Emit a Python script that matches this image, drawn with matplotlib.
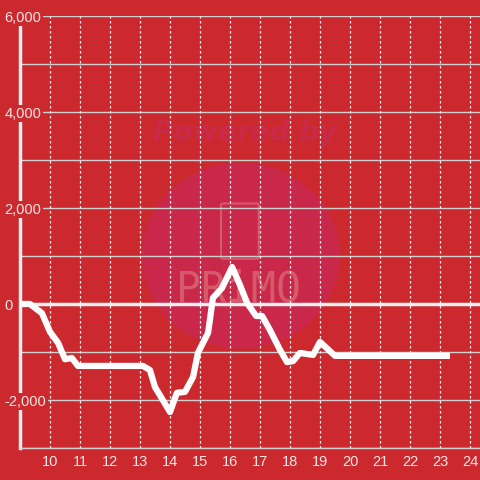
import numpy as np
import matplotlib.pyplot as plt
from matplotlib.patches import Circle, FancyBboxPatch

plt.rcParams['font.family'] = ['Liberation Sans', 'DejaVu Sans']

# hours of day vs. running value
hours = [9.0, 9.33, 9.73, 10.0, 10.27, 10.5, 10.73, 10.93, 13.1, 13.33, 13.5,
         14.0, 14.23, 14.5, 14.77, 14.93, 15.27, 15.43, 15.73, 16.07, 16.33,
         16.57, 16.87, 17.07, 17.33, 17.67, 17.9, 18.1, 18.33, 18.77, 19.0,
         19.5, 23.33]
values = [0, 0, -190, -580, -810, -1150, -1125, -1290, -1290, -1375, -1730,
          -2250, -1850, -1830, -1520, -1020, -600, 125, 330, 770, 400,
          20, -250, -250, -540, -960, -1210, -1190, -1020, -1060, -790,
          -1080, -1080]

x_ticks = list(range(10, 25))
y_ticks = [-2000, 0, 2000, 4000, 6000]
y_labels = ['-2,000', '0', '2,000', '4,000', '6,000']

bg = '#cc292e'
txt = '#f3e6e6'

fig = plt.figure(figsize=(4.8, 4.8), dpi=100, facecolor=bg)
ax = fig.add_axes([20 / 480, 32 / 480, 460 / 480, 432 / 480], facecolor=bg)
ax.set_xlim(9, 24.333)
ax.set_ylim(-3000, 6000)

# watermark
ax.add_patch(Circle((0.48, 0.445), 0.215, transform=ax.transAxes,
                    facecolor='#c9284a', edgecolor='none', zorder=0))
ax.text(0.49, 0.729, 'Powered by', transform=ax.transAxes, ha='center',
        va='center', fontsize=20, fontweight='bold', style='italic',
        color='#c82a47', family='DejaVu Sans', zorder=0.5)
ax.add_patch(FancyBboxPatch((0.441, 0.442), 0.074, 0.12, transform=ax.transAxes,
                            boxstyle='round,pad=0.004', facecolor='none',
                            edgecolor='#d65a6a', lw=1.5, zorder=0.5))
ax.text(0.474, 0.368, 'PRiMO', transform=ax.transAxes, ha='center',
        va='center', fontsize=30, color='#d65a6a', family='DejaVu Sans Mono',
        zorder=0.5)

# grid
for v in range(-3000, 6001, 1000):
    if v == 0:
        continue
    ax.axhline(v, color='#cfcfcf', lw=1, zorder=1)
for h in x_ticks:
    ax.axvline(h, color='#f0f0f0', lw=0.9, ls=(0, (2, 2)), zorder=1)
ax.axhline(0, color='#f5f0f0', lw=2.5, zorder=2)

ax.plot(hours, values, color='white', lw=4.5, solid_capstyle='butt',
        solid_joinstyle='round', zorder=3)

for s in ['top', 'right']:
    ax.spines[s].set_visible(False)
ax.spines['left'].set_color('#f5f0f0')
ax.spines['left'].set_linewidth(2.5)
ax.spines['left'].set_zorder(2)
ax.spines['bottom'].set_color('#cfcfcf')
ax.spines['bottom'].set_linewidth(1)

ax.set_xticks(x_ticks)
ax.set_xticklabels([str(h) for h in x_ticks])
ax.set_yticks(y_ticks)
ax.set_yticklabels(y_labels)
ax.tick_params(axis='x', length=0, pad=5, labelsize=10.5, labelcolor=txt)
ax.tick_params(axis='y', length=0, pad=11, labelsize=10.5, labelcolor=txt)
ax.yaxis.set_zorder(5)
for lab in ax.get_yticklabels():
    lab.set_horizontalalignment('left')
    lab.set_bbox(dict(facecolor=bg, edgecolor='none', pad=1))

fig.savefig('out.png', dpi=100, facecolor=bg)
